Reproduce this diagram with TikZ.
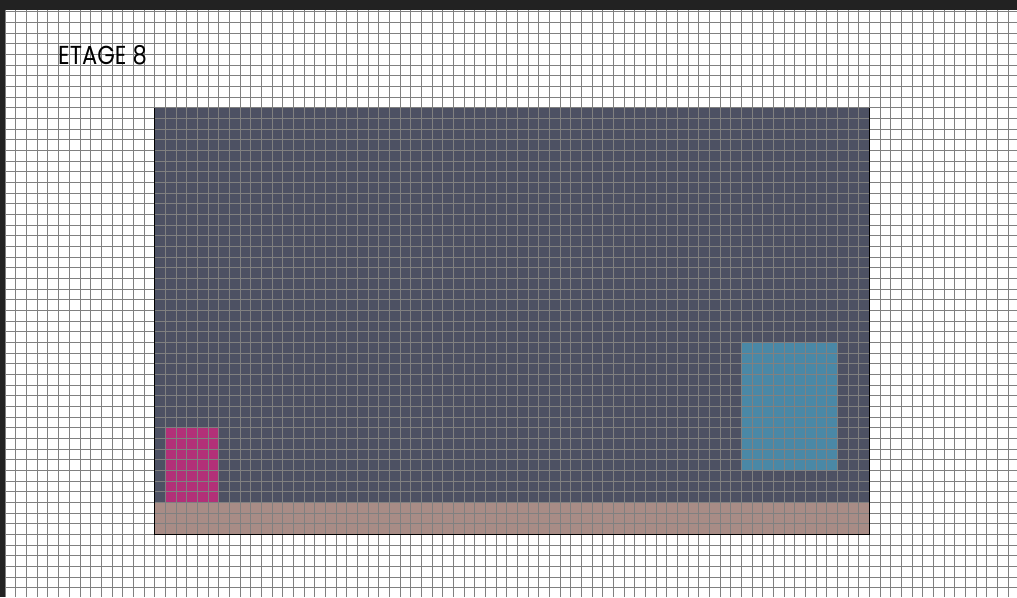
\documentclass[tikz,border=0pt]{standalone}
\usepackage{fontspec}
\usepackage{xcolor}
\usepackage{tikz}
\usetikzlibrary{positioning}
\newfontfamily\planfont{Poppins}

\definecolor{roomgray}{RGB}{77,81,99}
\definecolor{floorbrown}{RGB}{168,140,134}
\definecolor{zonepink}{RGB}{178,48,120}
\definecolor{zoneblue}{RGB}{74,136,166}
\definecolor{gridgray}{RGB}{128,128,128}
\definecolor{framedark}{RGB}{34,34,34}

\begin{document}
\begin{tikzpicture}[
    x=1pt, y=-1pt,
    gridline/.style={draw=gridgray, line width=1pt},
    zone/.style={draw=none},
    wall/.style={draw=black, line width=1.3pt},
    title/.style={font=\planfont\fontsize{26}{26}\selectfont, inner sep=0pt, anchor=base west, xscale=0.87},
]
\def\cw{10.667}
\useasboundingbox (0,0) rectangle (1017,597);

% Background
\fill[white] (0,0) rectangle (1017,597);

% Room and zones
\fill[roomgray] ({5.33+14*\cw},{11.67+9*\cw}) rectangle ({5.33+81*\cw},{11.67+46*\cw});
\fill[floorbrown] ({5.33+14*\cw},{11.67+46*\cw}) rectangle ({5.33+81*\cw},{11.67+49*\cw});
\fill[zonepink] ({5.33+15*\cw},{11.67+39*\cw}) rectangle ({5.33+20*\cw},{11.67+46*\cw});
\fill[zoneblue] ({5.33+69*\cw},{11.67+31*\cw}) rectangle ({5.33+78*\cw},{11.67+43*\cw});

% Grid
\foreach \k in {0,...,95}
    \draw[gridline] ({5.33+\k*\cw},10) -- ({5.33+\k*\cw},597);
\foreach \k in {0,...,55}
    \draw[gridline] (5,{11.67+\k*\cw}) -- (1017,{11.67+\k*\cw});

% Walls
\draw[wall] ({5.33+14*\cw},{11.67+9*\cw}) -- ({5.33+14*\cw},{11.67+49*\cw})
    -- ({5.33+81*\cw},{11.67+49*\cw}) -- ({5.33+81*\cw},{11.67+9*\cw});

% Label
\node[title] (etage) at (58,64) {ETAGE 8};

% Window frame
\fill[framedark] (0,0) rectangle (1017,10);
\fill[framedark] (0,0) rectangle (5,597);
\end{tikzpicture}
\end{document}
